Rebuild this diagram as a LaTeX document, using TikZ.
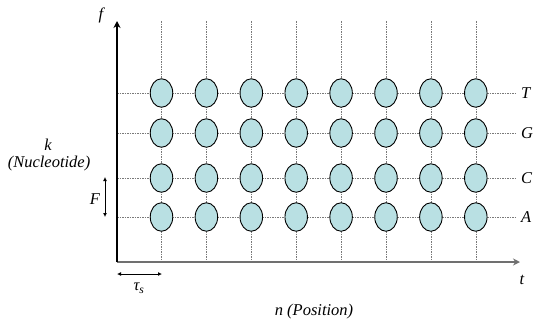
\documentclass[tikz,border=0pt]{standalone}
\usepackage{fontspec}
\setmainfont{Liberation Serif}
\newfontfamily\dnafont{Liberation Serif}
\usetikzlibrary{arrows.meta,shapes.geometric}
\definecolor{dnaCell}{HTML}{B9E0E3}
\definecolor{dnaGrid}{HTML}{7A7A7A}
\definecolor{dnaAxis}{HTML}{707070}
\tikzset{
  cell/.style={
    ellipse,
    draw=black,
    fill=dnaCell,
    line width=0.9pt,
    minimum width=22.5pt,
    minimum height=28.5pt,
    inner sep=0pt
  },
  gridline/.style={draw=dnaGrid, line width=0.6pt, dash pattern=on 1.5pt off 1pt},
  axisline/.style={-{Stealth[length=7pt,width=7pt]}, line width=1.2pt},
  span/.style={{Latex[length=4pt,width=4pt]}-{Latex[length=4pt,width=4pt]}, line width=1pt},
  lbl/.style={font=\dnafont\fontsize{16.5}{19}\selectfont\itshape, inner sep=0pt}
}

\begin{document}
\begin{tikzpicture}[x=1pt,y=-1pt]
  \useasboundingbox (0,0) rectangle (534,322);

  % grid of positions
  \foreach \i in {0,...,7} {
    \coordinate (top\i) at (161.5+44.9*\i,21);
    \coordinate (bot\i) at (161.5+44.9*\i,262);
    \draw[gridline] (top\i) -- (bot\i);
  }
  \foreach \b/\y in {T/93,G/133,C/178,A/217} {
    \coordinate (left\b) at (117,\y);
    \node[lbl, anchor=west] (lab\b) at (521,\y) {\b};
    \draw[gridline] (left\b) -- ([xshift=-4pt]lab\b.west);
  }

  % axes
  \coordinate (origin) at (117,262);
  \coordinate (ftip) at (117,21);
  \coordinate (ttip) at (520,262);
  \draw[axisline, draw=dnaAxis] (origin) -- (ttip);
  \draw[axisline] (origin) -- (ftip);
  \node[lbl] (flab) at (101,15) {f};
  \node[lbl] (tlab) at (522,280) {t};

  % cells
  \foreach \i in {0,...,7} {
    \foreach \b/\y in {T/93,G/133,C/178,A/217} {
      \node[cell] (cell\b\i) at (161.5+44.9*\i,\y) {};
    }
  }

  % spacings
  \coordinate (Fhi) at (105,177);
  \coordinate (Flo) at (105,217);
  \draw[span] (Fhi) -- (Flo);
  \node[lbl] (Flab) at (95,199) {F};
  \coordinate (tauL) at (117,274);
  \coordinate (tauR) at (162,274);
  \draw[span] (tauL) -- (tauR);
  \node[lbl] (taulab) at (139,288) {τ\textsubscript{s}};

  % axis names
  \node[lbl] (klab) at (48,145) {k};
  \node[lbl] (nuclab) at (49,164) {(Nucleotide)};
  \node[lbl] (poslab) at (314,312) {n (Position)};
\end{tikzpicture}
\end{document}
